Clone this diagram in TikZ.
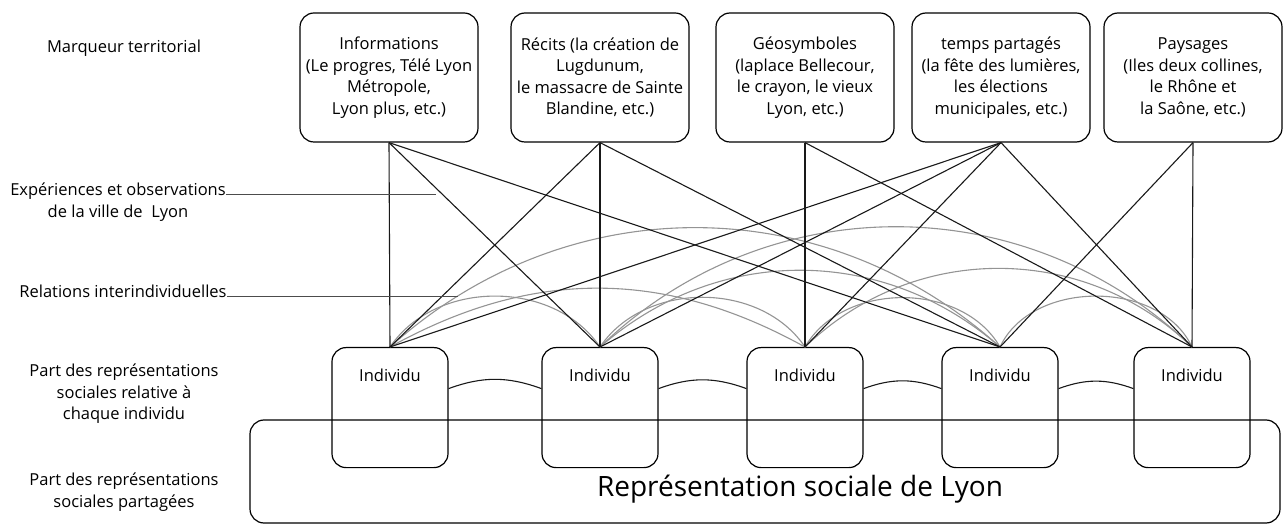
\documentclass[tikz,border=0pt]{standalone}
\usepackage{fontspec}
\setmainfont{Open Sans}
\usetikzlibrary{positioning}

\begin{document}
\begin{tikzpicture}[x=1pt,y=-1pt,
	marqueur/.style={draw, rounded corners=14pt, line width=1.2pt, minimum width=178pt, minimum height=129pt, align=center, inner sep=0pt, font=\fontsize{16.5}{21.5}\selectfont},
	individu/.style={draw, rounded corners=14pt, line width=1.2pt, minimum width=116pt, inner xsep=0pt, inner ysep=23pt, text height=11pt, text depth=63pt, anchor=north, font=\fontsize{16.5}{18}\selectfont},
	niveau/.style={align=center, inner sep=0pt, font=\fontsize{16.5}{21.5}\selectfont},
	lien/.style={line width=1.1pt, black!90},
	relation/.style={line width=1.1pt, black!42},
	guide/.style={line width=0.8pt, black!70}]
		\useasboundingbox (0,0) rectangle (1285,526);

		% Niveaux (colonne de gauche)
		\node[niveau] (marq) at (124,48) {Marqueur territorial};
		\node[niveau] (exp) at (118,202) {Expériences et observations\\de la ville de~ Lyon};
		\node[niveau] (rel) at (123,291) {Relations interindividuelles};
		\node[niveau] (partind) at (124,394) {Part des représentations\\sociales relative à\\chaque individu};
		\node[niveau] (partsoc) at (124,492) {Part des représentations\\sociales partagées};

		% Marqueurs territoriaux
		\node[marqueur] (m1) at (389,77.5) {Informations\\(Le progres, Télé Lyon\\Métropole,\\Lyon plus, etc.)};
		\node[marqueur] (m2) at (600,77.5) {Récits (la création de\\Lugdunum,\\le massacre de Sainte\\Blandine, etc.)};
		\node[marqueur] (m3) at (805,77.5) {Géosymboles\\(laplace Bellecour,\\le crayon, le vieux\\Lyon, etc.)};
		\node[marqueur] (m4) at (1001,77.5) {temps partagés\\(la fête des lumières,\\les élections\\municipales, etc.)};
		\node[marqueur] (m5) at (1193,77.5) {Paysages\\(Iles deux collines,\\le Rhône et\\la Saône, etc.)};

		% Representation partagee
		\draw[rounded corners=14pt, line width=1.2pt] (250,420) rectangle (1280,523);
		\node[font=\fontsize{28}{34}\selectfont] (titre) at (800,489) {Représentation sociale de Lyon};

		% Individus
		\foreach \i/\x in {1/390,2/600,3/805,4/1000,5/1192}
			{\node[individu] (i\i) at (\x,347) {Individu};}

		% Relations interindividuelles
		\foreach \a/\b/\ang in {1/2/56,1/3/29,1/4/42,2/3/56,2/4/41,2/5/44,3/4/60,3/5/44,4/5/65}
			{\draw[relation] (i\a.north) to[bend left=\ang] (i\b.north);}

		% Experiences et observations
		\foreach \t/\b in {1/1,1/2,1/4,2/1,2/2,2/4,3/3,3/5,4/1,4/2,4/3,4/5,5/4,5/5}
			{\draw[lien] (m\t.south) -- (i\b.north);}

		\foreach \a/\b in {1/2,2/3,3/4,4/5}
			{\draw[lien] ([yshift=19pt]i\a.east) to[bend left=20] ([yshift=19pt]i\b.west);}

		% Traits de renvoi
		\coordinate (expfin) at (436,194);
		\coordinate (relfin) at (458,296);
		\draw[guide] (exp.east |- expfin) -- (expfin);
		\draw[guide] (rel.east |- relfin) -- (relfin);
\end{tikzpicture}
\end{document}
